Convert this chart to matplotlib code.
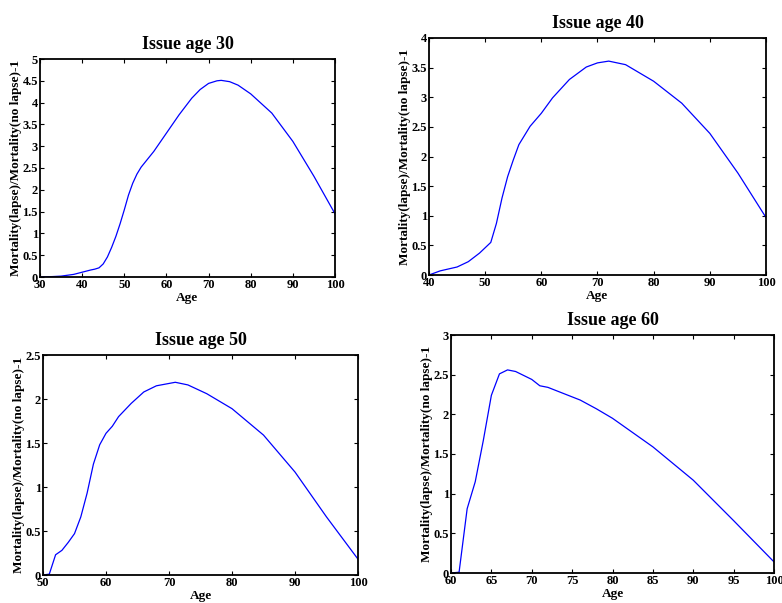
import matplotlib.pyplot as plt
from matplotlib.ticker import MultipleLocator, FormatStrFormatter

plt.rcParams['font.family'] = ['Liberation Serif', 'DejaVu Serif']
plt.rcParams['font.weight'] = 'bold'

# Issue age 30
age30 = [30, 33, 35, 38, 40, 42, 43, 44, 45, 46, 47, 48, 49, 50, 51, 52, 53, 54, 55, 57, 60, 63, 66,
         68, 70, 72, 73, 75, 77, 80, 85, 90, 95, 100]
val30 = [0, 0.01, 0.02, 0.06, 0.11, 0.16, 0.18, 0.21, 0.30, 0.46, 0.68, 0.93, 1.22, 1.54, 1.88, 2.15,
         2.36, 2.52, 2.64, 2.88, 3.30, 3.72, 4.10, 4.30, 4.44, 4.50, 4.51, 4.48, 4.40, 4.20, 3.76,
         3.11, 2.31, 1.45]

# Issue age 40
age40 = [40, 42, 45, 47, 49, 51, 52, 53, 54, 55, 56, 58, 60, 62, 65, 68, 70, 72, 75, 80, 85, 90, 95, 100]
val40 = [0, 0.07, 0.135, 0.225, 0.37, 0.55, 0.87, 1.30, 1.66, 1.94, 2.20, 2.51, 2.73, 2.99, 3.30,
         3.51, 3.58, 3.61, 3.55, 3.27, 2.90, 2.39, 1.72, 0.97]

# Issue age 50
age50 = [50, 51, 52, 53, 54, 55, 56, 57, 58, 59, 60, 61, 62, 64, 66, 68, 71, 73, 76, 80, 85, 90, 95, 100]
val50 = [0, 0.01, 0.23, 0.28, 0.37, 0.47, 0.66, 0.93, 1.26, 1.48, 1.61, 1.69, 1.80, 1.95, 2.08, 2.15,
         2.19, 2.16, 2.06, 1.89, 1.59, 1.17, 0.66, 0.18]

# Issue age 60
age60 = [60, 61, 62, 63, 64, 65, 66, 67, 68, 69, 70, 71, 72, 74, 76, 78, 80, 85, 90, 95, 100]
val60 = [0, 0.01, 0.81, 1.15, 1.67, 2.24, 2.51, 2.56, 2.54, 2.49, 2.44, 2.36, 2.34, 2.26, 2.18, 2.07,
         1.95, 1.59, 1.17, 0.66, 0.14]

W, H = 782, 603
fig = plt.figure(figsize=(W / 100, H / 100), dpi=100)

panels = [
    # (ages, values, title, pixel box l, t, r, b, ymax, xstep)
    (age30, val30, 'Issue age 30', (40, 59, 335, 277), 5, 10),
    (age40, val40, 'Issue age 40', (429, 38, 766, 275), 4, 10),
    (age50, val50, 'Issue age 50', (43, 355, 358, 575), 2.5, 10),
    (age60, val60, 'Issue age 60', (451, 335, 774, 573), 3, 5),
]

for ages, vals, title, (l, t, r, b), ymax, xstep in panels:
    ax = fig.add_axes([l / W, 1 - b / H, (r - l) / W, (b - t) / H])
    ax.plot(ages, vals, color='#0000ff', lw=0.9)
    ax.set_xlim(ages[0], 100)
    ax.set_ylim(0, ymax)
    ax.xaxis.set_major_locator(MultipleLocator(xstep))
    ax.yaxis.set_major_locator(MultipleLocator(0.5))
    ax.yaxis.set_major_formatter(FormatStrFormatter('%g'))
    ax.tick_params(direction='in', length=3, width=0.8, top=True, right=True,
                   labelsize=9, pad=1.5)
    for lab in ax.get_xticklabels() + ax.get_yticklabels():
        lab.set_fontweight('bold')
    for s in ax.spines.values():
        s.set_linewidth(1.3)
    ax.set_title(title, fontsize=13, fontweight='bold', pad=7)
    ax.set_xlabel('Age', fontsize=9.5, fontweight='bold', labelpad=0.5)
    ax.set_ylabel('Mortality(lapse)/Mortality(no lapse)-1', fontsize=9.5, fontweight='bold', labelpad=0)

plt.savefig('out.png', dpi=100)
